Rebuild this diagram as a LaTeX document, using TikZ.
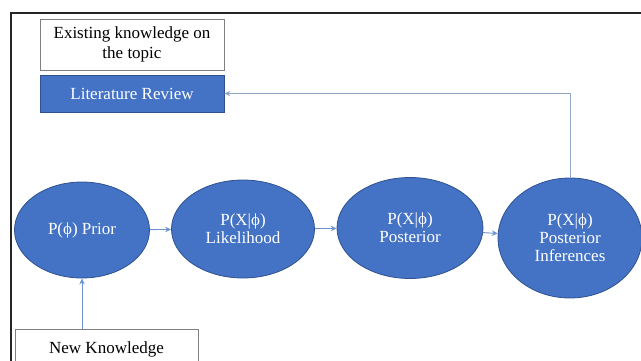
\documentclass[tikz,border=0pt]{standalone}
\usepackage{fontspec}
\setmainfont{Liberation Serif}
\usetikzlibrary{shapes.geometric,arrows.meta}
\definecolor{ovalblue}{HTML}{4472C4}
\definecolor{ovaledge}{HTML}{2F528F}
\definecolor{linkblue}{HTML}{6F93CF}
\definecolor{backline}{HTML}{8FA8C8}
\begin{document}
\begin{tikzpicture}[x=1pt,y=-1pt,>={Stealth[length=6pt,width=5.5pt]},
  oval/.style={ellipse,fill=ovalblue,draw=ovaledge,line width=0.8pt,text=white,align=center,inner sep=0pt,font=\fontsize{17}{18}\selectfont},
  plainbox/.style={draw=gray,line width=0.8pt,fill=white,align=center,inner sep=0pt,font=\fontsize{17}{20}\selectfont},
  link/.style={->,linkblue,line width=0.9pt}]
  \clip (0,0) rectangle (641,360);
  \draw[line width=1.5pt,black!85] (11,13) rectangle (660,380);
  \node[plainbox,minimum width=184,minimum height=51] (exist) at (132,44.5) {Existing knowledge on\\the topic};
  \node[plainbox,fill=ovalblue,draw=ovaledge,text=white,minimum width=184,minimum height=37] (litrev) at (132,93.5) {Literature Review};
  \node[oval,minimum width=135,minimum height=96] (prior) at (82,230) {P(ϕ) Prior};
  \node[oval,minimum width=143,minimum height=98] (like) at (243,229) {P(X|ϕ)\\Likelihood};
  \node[oval,minimum width=146,minimum height=101] (post) at (410,228) {P(X|ϕ)\\Posterior};
  \node[oval,minimum width=144,minimum height=120] (infer) at (570,238) {P(X|ϕ)\\Posterior\\Inferences};
  \node[plainbox,minimum width=183,minimum height=40] (newk) at (106.5,349) {New Knowledge};
  \draw[link] (prior) -- (like);
  \draw[link] (like) -- (post);
  \draw[link] (post) -- (infer);
  \draw[link] (newk.north -| prior.south) -- (prior.south);
  \draw[->,backline,line width=0.9pt] (infer.north) |- (litrev.east);
\end{tikzpicture}
\end{document}
